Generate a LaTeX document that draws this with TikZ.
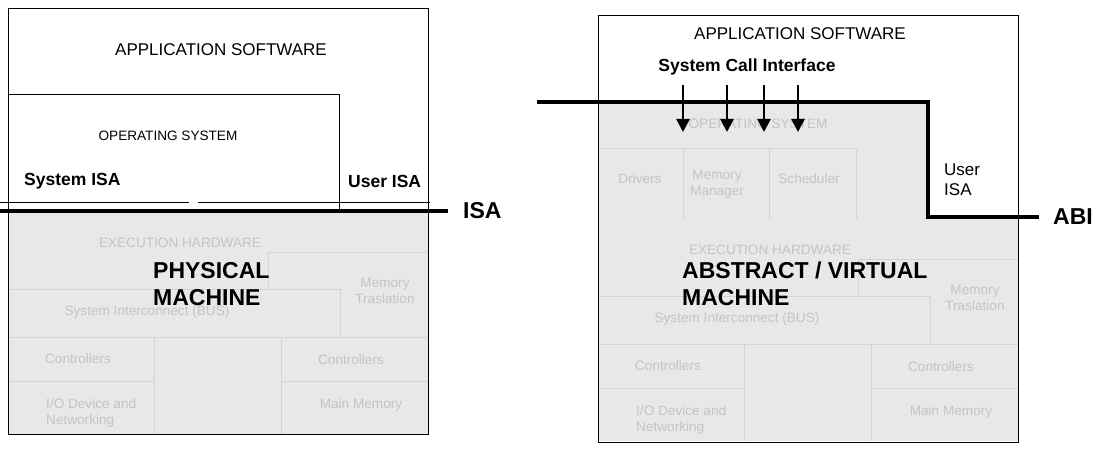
\documentclass[tikz,border=0pt]{standalone}
\usepackage{fontspec}
\setmainfont{Liberation Sans}
\usetikzlibrary{arrows.meta, positioning}

\definecolor{hwfill}{HTML}{E8E8E8}
\definecolor{hwline}{HTML}{D4D4D4}
\definecolor{hwtext}{HTML}{C4C4C4}

\tikzset{
  frame/.style={draw=black, line width=0.9pt},
  hwpart/.style={draw=hwline, line width=1pt},
  faint/.style={text=hwtext, font=\fontsize{13.6}{15.7}\selectfont, align=center, inner sep=0pt},
  small/.style={font=\fontsize{13.6}{15.7}\selectfont, inner sep=0pt},
  layer/.style={font=\fontsize{17}{20}\selectfont, align=left, inner sep=0pt},
  tag/.style={font=\bfseries\fontsize{17.5}{20}\selectfont, inner sep=0pt},
  title/.style={font=\bfseries\fontsize{23}{27}\selectfont, align=left, inner sep=0pt},
  iface/.style={line width=4pt, line join=miter},
  call/.style={line width=2.6pt, -{Triangle[length=13pt,width=13pt]}},
}

\begin{document}
\begin{tikzpicture}[x=1pt, y=-1pt]
\useasboundingbox (0,0) rectangle (1099,449);

% right machine: gray part above the hardware
\fill[hwfill] (598,102) -- (928,102) -- (928,218) -- (598,218) -- cycle;

% hardware, same for both machines
\foreach \m/\dx/\dy in {p/0/0, v/590/7}{
\begin{scope}[shift={(\dx,\dy)}]
\fill[hwfill] (8,211) rectangle (428,434);
\draw[hwpart] (268,289) -- (268,252) -- (428,252);
\draw[hwpart] (8,289) -- (340,289) -- (340,337);
\draw[hwpart] (8,337) -- (428,337);
\draw[hwpart] (154,337) -- (154,434);
\draw[hwpart] (281,337) -- (281,434);
\draw[hwpart] (8,381) -- (154,381);
\draw[hwpart] (281,381) -- (428,381);
\node[faint] (exec\m) at (180,243) {EXECUTION HARDWARE};
\node[faint] (bus\m) at (147,312) {System Interconnect (BUS)};
\node[faint] (mmu\m) at (385,291) {Memory\\Traslation};
\node[faint] (ctlA\m) at (78,359) {Controllers};
\node[faint] (ctlB\m) at (351,360) {Controllers};
\node[faint, align=left, anchor=west] (io\m) at (46,413) {I/O Device and\\Networking};
\node[faint] (mem\m) at (361,405) {Main Memory};
\end{scope}
}

% physical machine
\draw[frame] (8,8) rectangle (428,434);
\draw[frame] (8,94) -- (339,94) -- (339,211);
\node[layer] (appP) at (221,50) {APPLICATION SOFTWARE};
\node[small] (osP) at (168,136) {OPERATING SYSTEM};
\node[tag, anchor=west] (sysisa) at (24,181) {System ISA};
\node[tag, anchor=west] (userisa) at (348,181) {User ISA};
\coordinate (sysA) at (0,202);
\coordinate (sysB) at (189,202);
\coordinate (usrA) at (198,202);
\coordinate (usrB) at (430,202);
\draw[line width=1pt] (sysA) -- (sysB);
\draw[line width=1pt] (usrA) -- (usrB);
\coordinate (isaL) at (0,211);
\coordinate (isaR) at (448,211);
\draw[iface] (isaL) -- (isaR);
\node[title, right=15pt of isaR] (isa) {ISA};
\node[title, anchor=west] (phys) at (153,284) {PHYSICAL\\MACHINE};

% abstract / virtual machine
\draw[hwpart] (598,149) -- (856,149);
\draw[hwpart] (683,149) -- (683,219);
\draw[hwpart] (769,149) -- (769,219);
\draw[hwpart] (856,149) -- (856,219);
\node[faint] (osV) at (758,124) {OPERATING SYSTEM};
\node[faint] (drv) at (640,179) {Drivers};
\node[faint] (mman) at (717,184) {Memory\\Manager};
\node[faint] (sched) at (809,179) {Scheduler};
\draw[frame] (598,15) rectangle (1018,442);
\node[layer] (appV) at (800,34) {APPLICATION SOFTWARE};
\node[tag] (sci) at (747,67) {System Call Interface};
\node[layer, anchor=west] (uisa) at (944,180) {User\\ISA};
\node[title, anchor=west] (virt) at (682,284) {ABSTRACT / VIRTUAL\\MACHINE};

\coordinate (abiA) at (537,102);
\coordinate (abiB) at (928,102);
\coordinate (abiC) at (928,217);
\coordinate (abiD) at (1039,217);
\draw[iface] (abiA) -- (abiB) -- (abiC) -- (abiD);
\node[title, right=14pt of abiD] (abi) {ABI};

\foreach \x [count=\i] in {683,727,764,798}{
  \coordinate (cA\i) at (\x,85);
  \coordinate (cB\i) at (\x,132);
  \draw[call] (cA\i) -- (cB\i);
}

\end{tikzpicture}
\end{document}
